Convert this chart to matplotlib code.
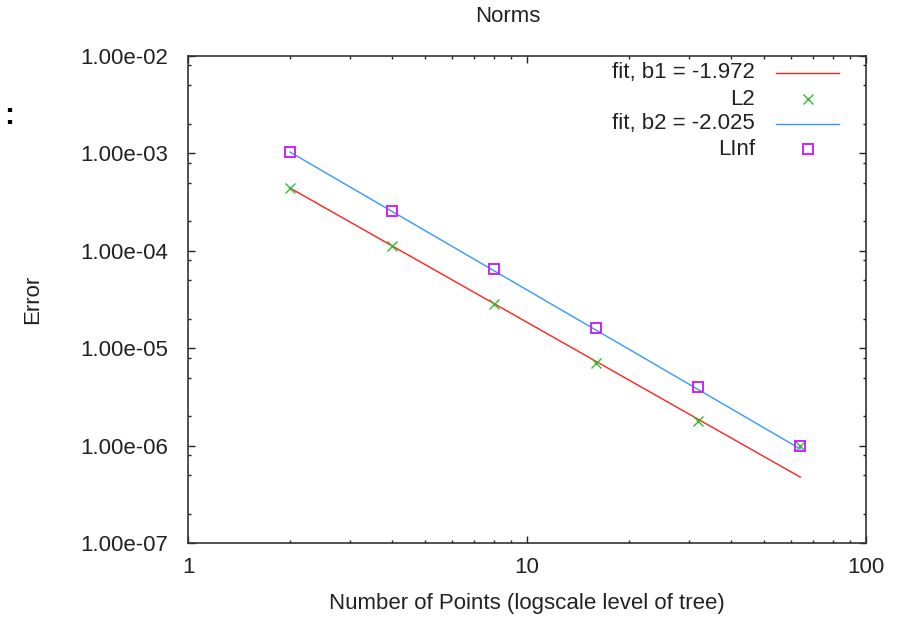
import numpy as np
import matplotlib
matplotlib.use("Agg")
import matplotlib.pyplot as plt
from matplotlib.ticker import FixedLocator, FuncFormatter, NullFormatter

# ---- data ----
x_points = [2, 4, 8, 16, 32, 64]
l2_values = [4.4e-4, 1.12e-4, 2.85e-5, 7.0e-6, 1.78e-6, 9.9e-7]
linf_values = [1.03e-3, 2.56e-4, 6.5e-5, 1.61e-5, 4.0e-6, 9.9e-7]

fit_x = [2, 64]
fit1_a, fit1_b = 1.73e-3, -1.972
fit2_a, fit2_b = 4.2e-3, -2.025

title = "Norms"
xlabel = "Number of Points (logscale level of tree)"
ylabel = "Error"
x_major = [1, 10, 100]
y_major = [1e-7, 1e-6, 1e-5, 1e-4, 1e-3, 1e-2]

FS = 16
plt.rcParams['font.family'] = ['Liberation Sans', 'DejaVu Sans']

fig = plt.figure(figsize=(8.97, 6.2), dpi=100)
ax = fig.add_axes([188/897, 1-543/620, (866-188)/897, (543-56)/620])

c_red, c_green, c_blue, c_mag = '#ff2020', '#33bb33', '#3399ff', '#cc22ff'
fx = np.array(fit_x, dtype=float)
ax.plot(fx, fit1_a * fx**fit1_b, color=c_red, lw=1.0)
ax.plot(x_points, l2_values, ls='none', marker='x', color=c_green, ms=7, mew=1.0)
ax.plot(fx, fit2_a * fx**fit2_b, color=c_blue, lw=1.0)
ax.plot(x_points, linf_values, ls='none', marker='s', mfc='none',
        mec=c_mag, ms=6.5, mew=1.4)

ax.set_xscale('log')
ax.set_yscale('log')
ax.set_xlim(1, 100)
ax.set_ylim(1e-7, 1e-2)

ax.xaxis.set_major_locator(FixedLocator(x_major))
ax.xaxis.set_major_formatter(FuncFormatter(lambda v, p: "%g" % v))
ax.xaxis.set_minor_locator(FixedLocator([m * d for d in (1, 10) for m in range(2, 10)]))
ax.xaxis.set_minor_formatter(NullFormatter())

ax.yaxis.set_major_locator(FixedLocator(y_major))
ax.yaxis.set_major_formatter(FuncFormatter(lambda v, p: "%.2e" % v))
ax.yaxis.set_minor_locator(FixedLocator([m * d for d in y_major[:-1] for m in (2, 5, 8)]))
ax.yaxis.set_minor_formatter(NullFormatter())

ax.tick_params(which='both', direction='in', top=True, right=True,
               color='#222222', width=1.0, labelcolor='#222222')
ax.tick_params(which='major', length=5, labelsize=FS)
ax.tick_params(axis='x', which='major', pad=10)
ax.tick_params(axis='y', which='major', pad=14)
ax.tick_params(which='minor', length=2.5)
for s in ax.spines.values():
    s.set_color('#333333')
    s.set_linewidth(1.2)

ax.set_xlabel(xlabel, fontsize=FS, color='#222222', va='center')
ax.xaxis.set_label_coords(0.5, (543-604)/487)
ax.set_ylabel(ylabel, fontsize=FS, color='#222222', va='center')
ax.yaxis.set_label_coords((33-188)/678, 0.5)
fig.text(508/897, 1-16/620, title, ha='center', va='center', fontsize=FS, color='#222222')
fig.text(9/897, 1-116/620, ":", ha='center', va='center', fontsize=22, fontweight='bold')

# ---- legend (gnuplot style: right-aligned text, sample on the right) ----
labels = ["fit, b1 = %.3f" % fit1_b, "L2", "fit, b2 = %.3f" % fit2_b, "LInf"]
rows_y = [0.9651, 0.9117, 0.8604, 0.8090]
text_x, line_x0, line_x1 = 0.8363, 0.8673, 0.9602
mark_x = (line_x0 + line_x1) / 2
for lab, yy in zip(labels, rows_y):
    ax.text(text_x, yy, lab, transform=ax.transAxes, ha='right', va='center',
            fontsize=FS, color='#222222')
ax.plot([line_x0, line_x1], [rows_y[0]] * 2, color=c_red, lw=1.0,
        transform=ax.transAxes, clip_on=False)
ax.plot([mark_x], [rows_y[1]], ls='none', marker='x', color=c_green, ms=7,
        mew=1.0, transform=ax.transAxes, clip_on=False)
ax.plot([line_x0, line_x1], [rows_y[2]] * 2, color=c_blue, lw=1.0,
        transform=ax.transAxes, clip_on=False)
ax.plot([mark_x], [rows_y[3]], ls='none', marker='s', mfc='none', mec=c_mag,
        ms=6.5, mew=1.4, transform=ax.transAxes, clip_on=False)

fig.savefig("out.png", dpi=100)
